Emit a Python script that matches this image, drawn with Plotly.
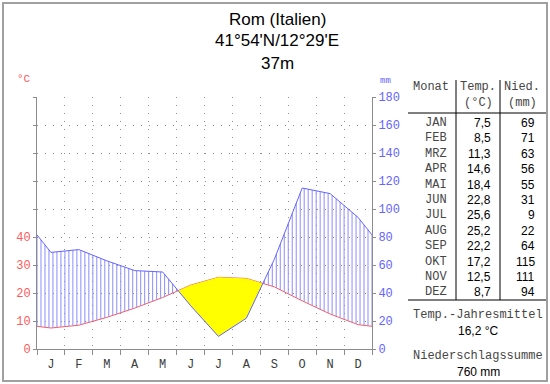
import numpy as np
import plotly.graph_objects as go

# ---------------- data ----------------
station = "Rom (Italien)"
coords = "41°54'N/12°29'E"
elevation = "37m"
month_letters = ["J", "F", "M", "A", "M", "J", "J", "A", "S", "O", "N", "D"]
month_names = ["JAN", "FEB", "MRZ", "APR", "MAI", "JUN", "JUL", "AUG", "SEP", "OKT", "NOV", "DEZ"]
temperature = [7.5, 8.5, 11.3, 14.6, 18.4, 22.8, 25.6, 25.2, 22.2, 17.2, 12.5, 8.7]
precipitation = [69, 71, 63, 56, 55, 31, 9, 22, 64, 115, 111, 94]
temp_tick_values = [0, 10, 20, 30, 40, 50, 60, 70, 80, 90]
temp_tick_labels = ["0", "10", "20", "30", "40", "", "", "", "", ""]
precip_tick_values = [0, 20, 40, 60, 80, 100, 120, 140, 160, 180]

# ---------------- geometry helpers ----------------
W, H = 550, 384
L, R, T, B = 37, 372, 97, 349


def px(x):
    return (x - L) / (R - L)


def py(y):
    return (B - y) / (B - T)


RATIO = 2.0  # mm per degC

xs = [0.0] + [i + 0.5 for i in range(12)] + [12.0]
t_edge = (temperature[-1] + temperature[0]) / 2
p_edge = (precipitation[-1] + precipitation[0]) / 2
tc = [t_edge] + temperature + [t_edge]
pc = [p_edge] + precipitation + [p_edge]
tc_mm = [v * RATIO for v in tc]

RED = "rgb(255,90,90)"
BLUE = "rgb(100,100,255)"
HATCH = "rgb(140,140,255)"
GRAY = "rgb(140,140,140)"
MONO = "Liberation Mono"
SANS = "Liberation Sans"
DOTS = "1px,7px"

fig = go.Figure()

# hatch (humid period)
STEPS = 7
hx, hy = [], []
for k in range(0, 12 * STEPS + 1):
    x = k / STEPS
    t = float(np.interp(x, xs, tc_mm))
    p = float(np.interp(x, xs, pc))
    if p > t:
        hx += [x, x, None]
        hy += [t, p, None]
fig.add_trace(go.Scatter(x=hx, y=hy, yaxis="y2", mode="lines",
                         line=dict(color=HATCH, width=1), hoverinfo="skip", showlegend=False))

# arid period (yellow)
d = [a - b for a, b in zip(tc_mm, pc)]
polys = []
top, bot = [], []
for i in range(len(xs)):
    if i > 0 and (d[i - 1] > 0) != (d[i] > 0):
        f = d[i - 1] / (d[i - 1] - d[i])
        xc = xs[i - 1] + f * (xs[i] - xs[i - 1])
        yc = tc_mm[i - 1] + f * (tc_mm[i] - tc_mm[i - 1])
        top.append((xc, yc))
        bot.append((xc, yc))
        if d[i - 1] > 0:
            polys.append(top + bot[::-1])
            top, bot = [], []
    if d[i] > 0:
        top.append((xs[i], tc_mm[i]))
        bot.append((xs[i], pc[i]))
if top:
    polys.append(top + bot[::-1])
for poly in polys:
    fig.add_trace(go.Scatter(x=[q[0] for q in poly], y=[q[1] for q in poly], yaxis="y2",
                             mode="lines", fill="toself", fillcolor="rgb(255,255,0)",
                             line=dict(width=0, color="rgba(0,0,0,0)"),
                             hoverinfo="skip", showlegend=False))

# curves
fig.add_trace(go.Scatter(x=xs, y=pc, yaxis="y2", mode="lines",
                         line=dict(color=BLUE, width=1), showlegend=False))
fig.add_trace(go.Scatter(x=xs, y=tc, yaxis="y", mode="lines",
                         line=dict(color=RED, width=1), showlegend=False))

fig.update_layout(
    width=W, height=H,
    margin=dict(l=L, r=W - R, t=T, b=H - B),
    paper_bgcolor="white", plot_bgcolor="white",
    showlegend=False,
    xaxis=dict(range=[0, 12], tickvals=[i + 0.5 for i in range(12)], ticktext=month_letters,
               ticks="", showline=True, linecolor=GRAY, linewidth=1, showgrid=False,
               zeroline=False, tickfont=dict(family=MONO, size=12, color="rgb(60,60,60)"),
               ticklabelstandoff=4,
               minor=dict(tickvals=list(range(13)), ticks="outside", ticklen=5,
                          tickcolor=GRAY, showgrid=True, gridcolor=GRAY,
                          griddash=DOTS, gridwidth=1),
               fixedrange=True),
    yaxis=dict(range=[0, 90], tickvals=temp_tick_values, ticktext=temp_tick_labels,
               ticks="outside", ticklen=3, tickcolor=GRAY, showline=True, linecolor=GRAY,
               showgrid=True, gridcolor=GRAY, griddash=DOTS, zeroline=False,
               tickfont=dict(family=MONO, size=12, color=RED), fixedrange=True),
    yaxis2=dict(range=[0, 180], tickvals=precip_tick_values, overlaying="y", side="right",
                ticks="outside", ticklen=3, tickcolor=GRAY, showline=True, linecolor=GRAY,
                showgrid=False, zeroline=False,
                tickfont=dict(family=MONO, size=12, color=BLUE), fixedrange=True),
)

ann = []


def text(x, y, s, size=12, family=MONO, color="rgb(70,70,70)", xanchor="center"):
    ann.append(dict(x=px(x), y=py(y), xref="paper", yref="paper", text=s, showarrow=False,
                    xanchor=xanchor, yanchor="middle",
                    font=dict(family=family, size=size, color=color)))


# title
text(277, 19, station, size=17, family=SANS, color="black")
text(277, 41, coords, size=17, family=SANS, color="black")
text(277, 63, elevation, size=17, family=SANS, color="black")
# axis units
text(24, 79, "°C", size=11, color=RED)
text(385, 81, "mm", size=9, color=BLUE)

# table
text(431, 87, "Monat", size=12)
text(478, 87, "Temp.", size=12)
text(478, 103, "(°C)", size=12)
text(522, 87, "Nied.", size=12)
text(522, 103, "(mm)", size=12)
row_y0, row_dy = 123, 15.4
for i in range(12):
    y = row_y0 + i * row_dy
    text(436, y, month_names[i], size=12)
    text(493, y, f"{temperature[i]:.1f}".replace(".", ","), size=12, family=SANS,
         color="black", xanchor="right")
    text(537, y, str(precipitation[i]), size=12, family=SANS, color="black", xanchor="right")

mean_t = sum(temperature) / len(temperature)
sum_p = sum(precipitation)
text(478, 315, "Temp.-Jahresmittel", size=12)
text(478, 331, f"{mean_t:.1f} °C".replace(".", ","), size=12, family=SANS, color="black")
text(478, 356, "Niederschlagssumme", size=12)
text(478, 372, f"{sum_p} mm", size=12, family=SANS, color="black")

fig.update_layout(annotations=ann)

shapes = []


def line(x0, y0, x1, y1, color="black", width=1):
    shapes.append(dict(type="line", xref="paper", yref="paper", x0=px(x0), y0=py(y0),
                       x1=px(x1), y1=py(y1), line=dict(color=color, width=width)))


line(456, 80, 456, 300)
line(500, 80, 500, 300)
line(408, 113, 546, 113)
line(408, 300, 546, 300)
# outer frame
shapes.append(dict(type="rect", xref="paper", yref="paper", x0=px(3), y0=py(3),
                   x1=px(547), y1=py(381), line=dict(color="rgb(160,160,160)", width=2)))
fig.update_layout(shapes=shapes)

fig.write_html("out.html", config={"displayModeBar": False},
               post_script="document.body.style.margin='0';document.body.style.overflow='hidden';")
